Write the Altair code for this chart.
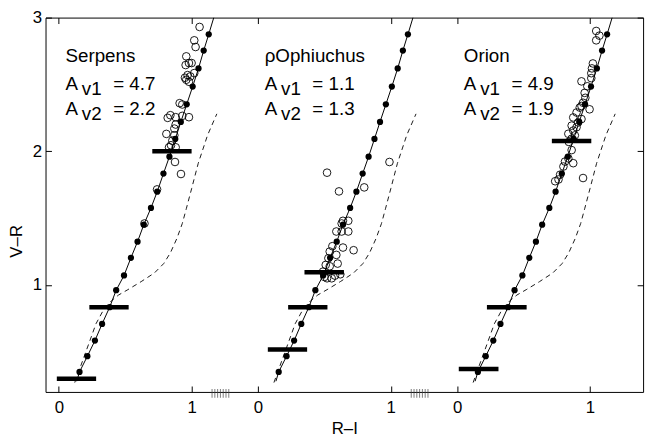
import altair as alt
import pandas as pd

# ---------------- data ----------------
panel_names = ["Serpens", "ρOphiuchus", "Orion"]
panel_offsets = [0.0, 1.5, 3.0]
av1_values = ["= 4.7", "= 1.1", "= 4.9"]
av2_values = ["= 2.2", "= 1.3", "= 1.9"]

# intrinsic colour track (filled dots), R-I and V-R
track_ri = [0.156, 0.215, 0.272, 0.326, 0.383, 0.432, 0.491, 0.543, 0.593, 0.640, 0.694,
            0.741, 0.788, 0.833, 0.877, 0.919, 0.963, 1.008, 1.052, 1.091, 1.129]
track_vr = [0.350, 0.467, 0.584, 0.709, 0.834, 0.961, 1.071, 1.203, 1.324, 1.451, 1.576,
            1.698, 1.833, 1.960, 2.092, 2.220, 2.351, 2.484, 2.620, 2.753, 2.875]
# solid line extension points (below first and above last dot)
line_start = (0.135, 0.28)
line_end = (1.167, 3.0)

# dashed curve
dash_ri = [0.12, 0.20, 0.28, 0.34, 0.40, 0.45, 0.52, 0.62, 0.72, 0.79, 0.84, 0.89,
           0.93, 0.96, 1.00, 1.05, 1.12, 1.19]
dash_vr = [0.27, 0.49, 0.71, 0.82, 0.885, 0.925, 0.965, 1.025, 1.09, 1.16, 1.24, 1.35,
           1.46, 1.57, 1.72, 1.91, 2.12, 2.28]

# thick horizontal bars per panel
bar_y = [[0.298, 0.834, 2.0], [0.518, 0.834, 1.095], [0.371, 0.834, 2.077]]
bar_x1 = [[-0.015, 0.23, 0.704], [0.074, 0.227, 0.35], [0.012, 0.224, 0.713]]
bar_x2 = [[0.281, 0.526, 1.0], [0.37, 0.523, 0.647], [0.311, 0.523, 1.01]]

# open circles per panel
serp_ri = [1.06, 1.02, 1.03, 0.96, 0.98, 0.955, 1.00, 0.97, 0.95, 0.99, 0.96, 1.02, 0.98,
           0.91, 0.93, 0.84, 0.88, 0.93, 0.98, 0.82, 0.88, 0.87, 0.81, 0.87, 0.855, 0.845,
           0.88, 0.83, 0.875, 0.92, 0.74, 0.645]
serp_vr = [2.93, 2.83, 2.78, 2.71, 2.66, 2.645, 2.66, 2.57, 2.55, 2.56, 2.535, 2.585, 2.52,
           2.36, 2.35, 2.27, 2.255, 2.265, 2.255, 2.25, 2.20, 2.17, 2.13, 2.12, 2.08, 2.045,
           2.03, 2.03, 1.92, 1.83, 1.715, 1.46]
oph_ri = [0.52, 0.61, 0.80, 0.99, 0.64, 0.68, 0.63, 0.59, 0.63, 0.68, 0.56, 0.64, 0.72,
          0.54, 0.59, 0.53, 0.51, 0.54, 0.60, 0.49, 0.58, 0.52, 0.555, 0.62, 0.50]
oph_vr = [1.84, 1.70, 1.73, 1.92, 1.48, 1.48, 1.46, 1.40, 1.40, 1.40, 1.29, 1.28, 1.26,
          1.25, 1.225, 1.20, 1.15, 1.14, 1.16, 1.10, 1.07, 1.05, 1.05, 1.08, 1.06]
ori_ri = [1.047, 1.071, 1.047, 1.022, 1.015, 1.01, 1.01, 0.936, 0.98, 0.96, 0.965, 0.948,
          0.923, 0.936, 0.997, 0.899, 0.874, 0.936, 0.911, 0.862, 0.899, 0.874, 0.837,
          0.886, 0.862, 0.841, 0.862, 0.837, 0.812, 0.874, 0.80, 0.948, 0.775, 0.763, 0.738]
ori_vr = [2.90, 2.865, 2.83, 2.657, 2.62, 2.584, 2.547, 2.523, 2.486, 2.437, 2.40, 2.363,
          2.327, 2.339, 2.314, 2.29, 2.253, 2.241, 2.216, 2.192, 2.18, 2.155, 2.131, 2.119,
          2.094, 2.07, 2.009, 1.947, 1.923, 1.911, 1.886, 1.80, 1.825, 1.789, 1.776]
circles_ri = [serp_ri, oph_ri, ori_ri]
circles_vr = [serp_vr, oph_vr, ori_vr]

# axis ticks
xtick_values = [0, 1, 1.5, 2.5, 3, 4]
xtick_labels = ["0", "1", "0", "1", "0", "1"]
ytick_values = [1, 2, 3]
break_ticks = [1.154, 1.175, 1.196, 1.217, 1.238, 1.259, 1.28,
               2.654, 2.675, 2.696, 2.717, 2.738, 2.759, 2.78]

# text positions (relative R-I, V-R)
text_x = 0.05
name_y = 2.67
av1_y = 2.456
av2_y = 2.269

# ---------------- tables ----------------
rows_track, rows_line, rows_dash, rows_bar, rows_circ, rows_txt = [], [], [], [], [], []
for p, off in enumerate(panel_offsets):
    for i, (a, b) in enumerate(zip(track_ri, track_vr)):
        rows_track.append({"p": p, "x": a + off, "y": b})
    pts = [line_start] + list(zip(track_ri, track_vr)) + [line_end]
    for i, (a, b) in enumerate(pts):
        rows_line.append({"p": p, "o": i, "x": a + off, "y": b})
    for i, (a, b) in enumerate(zip(dash_ri, dash_vr)):
        rows_dash.append({"p": p, "o": i, "x": a + off, "y": b})
    for a1, a2, b in zip(bar_x1[p], bar_x2[p], bar_y[p]):
        rows_bar.append({"p": p, "x": a1 + off, "x2": a2 + off, "y": b})
    for a, b in zip(circles_ri[p], circles_vr[p]):
        rows_circ.append({"p": p, "x": a + off, "y": b})
    rows_txt.append({"p": p, "x": text_x + off, "y": name_y, "kind": "name", "t": panel_names[p]})
    rows_txt.append({"p": p, "x": text_x + off, "y": av1_y, "kind": "A", "t": "A"})
    rows_txt.append({"p": p, "x": text_x + off, "y": av2_y, "kind": "A", "t": "A"})
    rows_txt.append({"p": p, "x": text_x + off, "y": av1_y, "kind": "sub", "t": "v1"})
    rows_txt.append({"p": p, "x": text_x + off, "y": av2_y, "kind": "sub", "t": "v2"})
    rows_txt.append({"p": p, "x": text_x + off, "y": av1_y, "kind": "val", "t": av1_values[p]})
    rows_txt.append({"p": p, "x": text_x + off, "y": av2_y, "kind": "val", "t": av2_values[p]})

df_track = pd.DataFrame(rows_track)
df_line = pd.DataFrame(rows_line)
df_dash = pd.DataFrame(rows_dash)
df_bar = pd.DataFrame(rows_bar)
df_circ = pd.DataFrame(rows_circ)
df_txt = pd.DataFrame(rows_txt)
df_break = pd.DataFrame({"x": break_ticks, "y": [0.2] * len(break_ticks)})

FONT = "Liberation Sans"
xs = alt.Scale(domain=[-0.1, 4.4], nice=False, zero=False)
ys = alt.Scale(domain=[0.2, 3.0], nice=False, zero=False)

label_expr = "[" + ",".join("'" + s + "'" for s in xtick_labels) + "][indexof([" + \
    ",".join(str(v) for v in xtick_values) + "], datum.value)]"

ax_bottom = alt.Axis(orient="bottom", values=xtick_values, labelExpr=label_expr, offset=-6,
                     tickSize=6, tickColor="black", domain=False, grid=False,
                     labelFont=FONT, labelFontSize=17, labelColor="black", labelPadding=8,
                     labelFlush=False, labelOverlap=False,
                     title="R–I", titleFont=FONT, titleFontSize=17, titleFontWeight="normal",
                     titleColor="black", titleY=48, titleBaseline="alphabetic")
ax_left = alt.Axis(orient="left", values=ytick_values, offset=-6, tickSize=6, tickColor="black",
                   domain=False, grid=False, labelFont=FONT, labelFontSize=17,
                   labelColor="black", labelPadding=4, labelFlush=False, labelOverlap=False,
                   title="V–R", titleFont=FONT, titleFontSize=17, titleFontWeight="normal",
                   titleColor="black", titleX=-30, titleY=226, titleBaseline="alphabetic",
                   titleAngle=270, titleAlign="center")
ax_top = alt.Axis(orient="top", values=xtick_values, offset=-6, tickSize=6, tickColor="black",
                  domain=False, grid=False, labels=False, title=None)
ax_right = alt.Axis(orient="right", values=ytick_values, offset=-6, tickSize=6,
                    tickColor="black", domain=False, grid=False, labels=False, title=None)

dash = alt.Chart(df_dash).mark_line(color="black", strokeWidth=0.9, strokeDash=[5, 4],
                                    clip=True).encode(
    x=alt.X("x:Q", scale=xs, axis=ax_top),
    y=alt.Y("y:Q", scale=ys, axis=ax_right),
    detail="p:N", order="o:Q")

solid = alt.Chart(df_line).mark_line(color="black", strokeWidth=1, clip=True).encode(
    x=alt.X("x:Q", scale=xs, axis=None),
    y=alt.Y("y:Q", scale=ys, axis=None),
    detail="p:N", order="o:Q")

circ = alt.Chart(df_circ).mark_point(shape="circle", filled=False, color="black", size=60,
                                     strokeWidth=0.9, opacity=1, clip=True).encode(
    x=alt.X("x:Q", scale=xs, axis=None),
    y=alt.Y("y:Q", scale=ys, axis=None))

dots = alt.Chart(df_track).mark_circle(color="black", size=40, opacity=1, clip=True).encode(
    x=alt.X("x:Q", scale=xs, axis=ax_bottom),
    y=alt.Y("y:Q", scale=ys, axis=ax_left))

bars = alt.Chart(df_bar).mark_rule(color="black", strokeWidth=4.5, clip=True).encode(
    x=alt.X("x:Q", scale=xs, axis=None), x2="x2:Q",
    y=alt.Y("y:Q", scale=ys, axis=None))

brk = alt.Chart(df_break).mark_tick(color="#444444", thickness=1, size=9, yOffset=1.5,
                                    orient="vertical").encode(
    x=alt.X("x:Q", scale=xs, axis=None),
    y=alt.Y("y:Q", scale=ys, axis=None))

def txt(kind, dx=0, dy=0):
    return alt.Chart(df_txt).transform_filter(alt.datum.kind == kind).mark_text(
        font=FONT, fontSize=19, color="black", align="left", baseline="alphabetic",
        dx=dx, dy=dy).encode(
        x=alt.X("x:Q", scale=xs, axis=None),
        y=alt.Y("y:Q", scale=ys, axis=None),
        text="t:N")

chart = alt.layer(
    dash, solid, circ, dots, bars, brk,
    txt("name"), txt("A"), txt("sub", dx=16.6, dy=4.4), txt("val", dx=48.3)
).resolve_axis(x="independent", y="independent").properties(
    width=605, height=379,
    padding={"left": 38, "top": 7, "right": 7, "bottom": 50},
    autosize=alt.AutoSizeParams(type="none"),
    background="white"
).configure_view(stroke="black", strokeWidth=1)

chart.save("out.html", embed_options={"renderer": "svg", "actions": False})
